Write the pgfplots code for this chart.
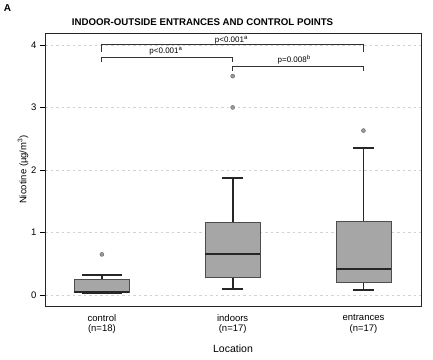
\documentclass[border=0pt]{standalone}
\usepackage{fontspec}
\setmainfont{Liberation Sans}
\usepackage{pgfplots}
\pgfplotsset{compat=1.18}
\usepgfplotslibrary{statistics}
\begin{document}
\begin{tikzpicture}[x=1pt,y=1pt]
\path[use as bounding box] (0,0) rectangle (433,359);
\begin{axis}[
 at={(45pt,53pt)}, anchor=south west, scale only axis,
 width=376pt, height=273pt,
 xmin=0.565, xmax=3.44, ymin=-0.175, ymax=4.19,
 xtick={1,2,3},
 xticklabels={{control\\(n=18)},{indoors\\(n=17)},{entrances\\(n=17)}},
 xticklabel style={align=center, font=\fontsize{9.5}{10.5}\selectfont},
 x tick style={draw=none},
 ytick={0,1,2,3,4},
 y tick style={black, line width=0.6pt},
 tick align=outside, major tick length=5pt,
 tick pos=left,
 yticklabel style={font=\fontsize{9.5}{11}\selectfont},
 /pgf/number format/assume math mode=true,
 ymajorgrids, grid style={gray!35, dash pattern=on 2.5pt off 3pt, line width=0.6pt},
 axis line style={black!85, line width=0.8pt},
 xlabel={Location}, ylabel={Nicotine (µg/m\textsuperscript{3})},
 xlabel style={at={(axis description cs:0.5,0)}, anchor=center, yshift=-43pt, font=\fontsize{10.5}{12}\selectfont},
 ylabel style={at={(axis description cs:-0.0585,0.5)}, anchor=center, font=\fontsize{9.5}{11}\selectfont},
 boxplot/draw direction=y,
 boxplot/every box/.style={fill=gray!70, draw=black!70, line width=0.8pt},
 boxplot/every median/.style={line width=1.6pt, draw=black!85},
 boxplot/every whisker/.style={line width=1.9pt, draw=black!85},
]
\addplot[boxplot prepared={draw position=1, lower whisker=0.03, lower quartile=0.04, median=0.05, upper quartile=0.25, upper whisker=0.32, box extend=0.42, whisker extend=0.31},
 black!85, line width=1.9pt, mark=*, mark size=2pt, mark options={fill=gray!80, draw=gray!80!black, line width=0.4pt}]
 table[row sep=\\, y index=0] {y\\0.65\\};
\addplot[boxplot prepared={draw position=2, lower whisker=0.09, lower quartile=0.29, median=0.66, upper quartile=1.16, upper whisker=1.87, box extend=0.42, whisker extend=0.16},
 black!85, line width=1.9pt, mark=*, mark size=2pt, mark options={fill=gray!80, draw=gray!80!black, line width=0.4pt}]
 table[row sep=\\, y index=0] {y\\3.0\\3.5\\};
\addplot[boxplot prepared={draw position=3, lower whisker=0.08, lower quartile=0.21, median=0.42, upper quartile=1.17, upper whisker=2.35, box extend=0.42, whisker extend=0.16},
 black!85, line width=1.9pt, mark=*, mark size=2pt, mark options={fill=gray!80, draw=gray!80!black, line width=0.4pt}]
 table[row sep=\\, y index=0] {y\\2.63\\};
\draw[line width=1.2pt, black!80] (axis cs:1,3.88) -- (axis cs:1,4.0) -- (axis cs:3,4.0) -- (axis cs:3,3.88);
\draw[line width=1.2pt, black!80] (axis cs:1,3.72) -- (axis cs:1,3.80) -- (axis cs:2,3.80) -- (axis cs:2,3.72);
\draw[line width=1.2pt, black!80] (axis cs:2,3.58) -- (axis cs:2,3.65) -- (axis cs:3,3.65) -- (axis cs:3,3.58);
\node[font=\fontsize{8}{9}\selectfont, inner sep=0pt] at (axis cs:1.99,4.07) {p<0.001\textsuperscript{a}};
\node[font=\fontsize{8}{9}\selectfont, inner sep=0pt] at (axis cs:1.49,3.90) {p<0.001\textsuperscript{a}};
\node[font=\fontsize{8}{9}\selectfont, inner sep=0pt] at (axis cs:2.47,3.76) {p=0.008\textsuperscript{b}};
\end{axis}
\node[font=\fontsize{9.7}{11}\selectfont\bfseries] at (202.5,337.3) {INDOOR-OUTSIDE ENTRANCES AND CONTROL POINTS};
\node[font=\fontsize{10}{12}\selectfont\bfseries] at (7.5,350.5) {A};
\end{tikzpicture}
\end{document}
